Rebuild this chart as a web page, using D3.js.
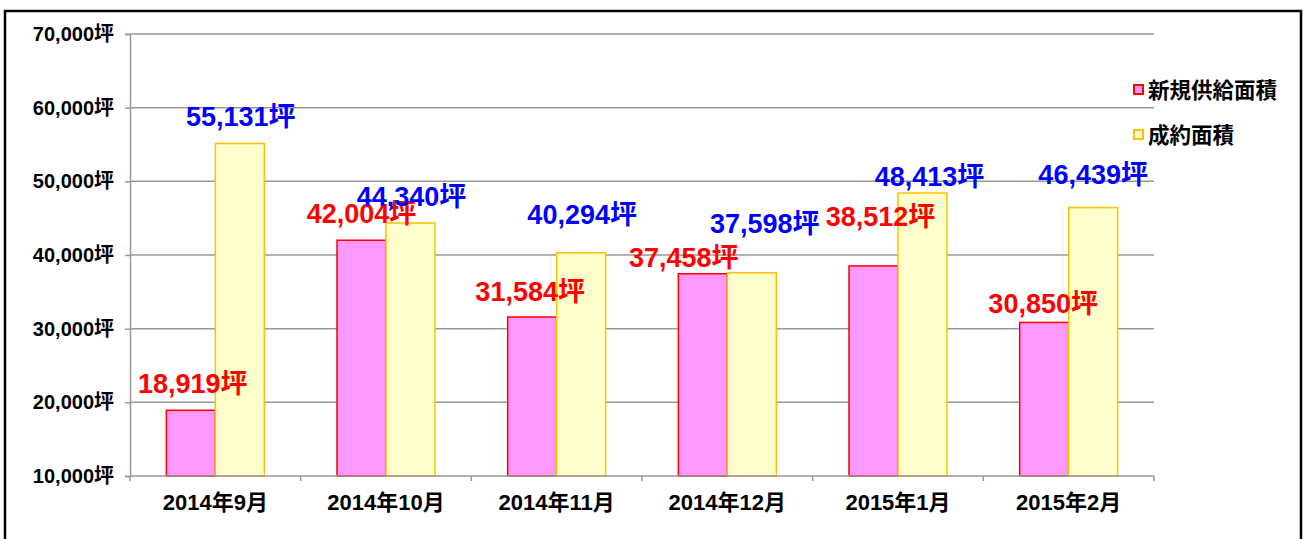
<!DOCTYPE html>
<html>
<head>
<meta charset="utf-8">
<script src="https://cdn.jsdelivr.net/npm/d3@7/dist/d3.min.js"></script>
<style>
  html, body { margin: 0; padding: 0; background: #fff; }
  svg { display: block; }
  text { font-family: "Liberation Sans", Arial, "Noto Sans CJK JP", sans-serif; }
</style>
</head>
<body>
<svg id="chart" width="1304" height="539"></svg>
<script>
// ---- data ----
const categories = ["2014年9月", "2014年10月", "2014年11月", "2014年12月", "2015年1月", "2015年2月"];
const seriesNames = ["新規供給面積", "成約面積"];
const supplyArea = [18919, 42004, 31584, 37458, 38512, 30850];
const contractArea = [55131, 44340, 40294, 37598, 48413, 46439];
const yTicks = [10000, 20000, 30000, 40000, 50000, 60000, 70000];
const unit = "坪";

// ---- label placement tweaks (px, relative to bar top centre) ----
const supplyLabelShift = [[2, -17], [0, -17], [-2, -16], [-19, -7], [7, -40], [-1, -9]];
const contractLabelShift = [[1, -18], [1, -17], [1, -29], [13, -40], [7, -7], [0, -24]];

// ---- styles ----
const fills = ["#FF99FF", "#FFFFCC"];
const strokes = ["#FF0000", "#FFC000"];
const labelColors = ["#FF0000", "#0000FF"];

const svg = d3.select("#chart");
const plot = { left: 130, right: 1154, top: 34, bottom: 476 };

// frame
svg.append("rect")
  .attr("x", 5).attr("y", 11).attr("width", 1296).attr("height", 540)
  .attr("fill", "none").attr("stroke", "#000").attr("stroke-width", 2.5);

const x = d3.scaleBand().domain(categories)
  .range([plot.left, plot.right]).paddingInner(0.4258).paddingOuter(0.2129);
const xs = d3.scaleBand().domain(seriesNames).range([0, x.bandwidth()]).padding(0);
const y = d3.scaleLinear().domain([yTicks[0], yTicks[yTicks.length - 1]]).range([plot.bottom, plot.top]);

const fmt = d3.format(",");

// gridlines
svg.append("g").selectAll("line").data(yTicks.slice(1)).join("line")
  .attr("x1", plot.left).attr("x2", plot.right)
  .attr("y1", d => y(d)).attr("y2", d => y(d))
  .attr("stroke", "#999").attr("stroke-width", 1.5);

// y axis
const yAxis = svg.append("g").attr("transform", `translate(${plot.left},0)`)
  .call(d3.axisLeft(y).tickValues(yTicks).tickSize(5).tickPadding(11).tickFormat(d => fmt(d) + unit));
yAxis.select(".domain").attr("stroke", "#999").attr("stroke-width", 1.5);
yAxis.selectAll(".tick line").attr("stroke", "#999").attr("stroke-width", 1.5);
yAxis.selectAll(".tick text").attr("font-size", 20).attr("font-weight", "bold").attr("fill", "#000")
  .attr("font-family", "\"Liberation Sans\", Arial, \"Noto Sans CJK JP\", sans-serif");

// bars
const rows = categories.map((c, i) => [
  { cat: c, s: 0, v: supplyArea[i], shift: supplyLabelShift[i] },
  { cat: c, s: 1, v: contractArea[i], shift: contractLabelShift[i] }
]);

const groups = svg.append("g").selectAll("g").data(rows).join("g")
  .attr("transform", d => `translate(${x(d[0].cat)},0)`);

groups.selectAll("rect").data(d => d).join("rect")
  .attr("x", d => xs(seriesNames[d.s]))
  .attr("y", d => y(d.v))
  .attr("width", xs.bandwidth())
  .attr("height", d => y(yTicks[0]) - y(d.v))
  .attr("fill", d => fills[d.s])
  .attr("stroke", d => strokes[d.s])
  .attr("stroke-width", 1.5);

// x axis
const xAxisLine = svg.append("g");
xAxisLine.append("line")
  .attr("x1", plot.left).attr("x2", plot.right).attr("y1", plot.bottom).attr("y2", plot.bottom)
  .attr("stroke", "#999").attr("stroke-width", 1.5);
const bounds = categories.map(c => x(c) - x.step() * x.paddingInner() / 2).concat([plot.right]);
xAxisLine.selectAll("line.tk").data(bounds).join("line").attr("class", "tk")
  .attr("x1", d => d).attr("x2", d => d).attr("y1", plot.bottom).attr("y2", plot.bottom + 5)
  .attr("stroke", "#999").attr("stroke-width", 1.5);
svg.append("g").selectAll("text").data(categories).join("text")
  .attr("x", d => x(d) + x.bandwidth() / 2)
  .attr("y", 510)
  .attr("text-anchor", "middle")
  .attr("font-size", 22).attr("font-weight", "bold").attr("fill", "#000")
  .text(d => d);

// value labels
svg.append("g").selectAll("text").data(rows.flat()).join("text")
  .attr("x", d => x(d.cat) + xs(seriesNames[d.s]) + xs.bandwidth() / 2 + d.shift[0])
  .attr("y", d => y(d.v) + d.shift[1])
  .attr("text-anchor", "middle")
  .attr("font-size", 27).attr("font-weight", "bold")
  .attr("fill", d => labelColors[d.s])
  .text(d => fmt(d.v) + unit);

// legend
const legend = svg.append("g").selectAll("g").data(seriesNames).join("g")
  .attr("transform", (d, i) => `translate(1133,${90 + i * 45})`);
legend.append("rect")
  .attr("x", 1).attr("y", -5).attr("width", 9).attr("height", 9)
  .attr("fill", (d, i) => fills[i]).attr("stroke", (d, i) => strokes[i]).attr("stroke-width", 2);
legend.append("text")
  .attr("x", 15).attr("y", 7.5)
  .attr("font-size", 21.5).attr("font-weight", "bold").attr("fill", "#000")
  .text(d => d);
</script>
</body>
</html>
